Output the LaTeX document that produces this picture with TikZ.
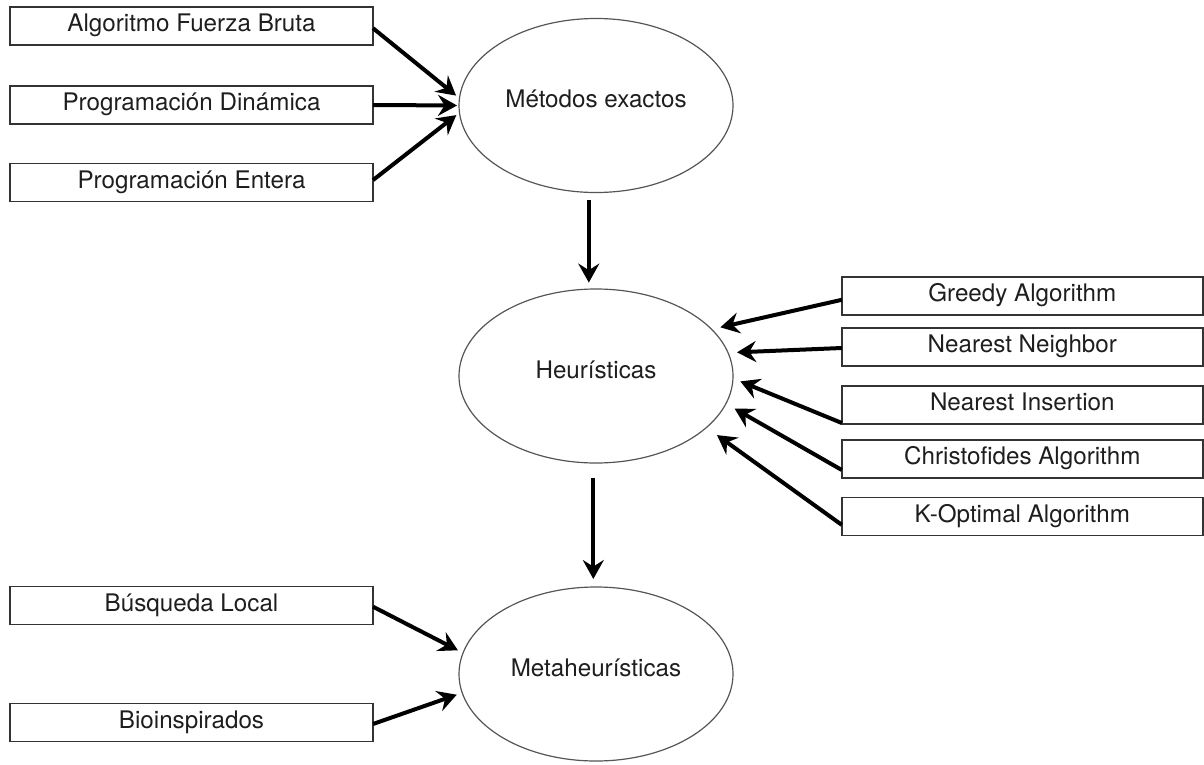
\documentclass[tikz,border=0pt]{standalone}
\usepackage{fontspec}
\setmainfont{TeX Gyre Heros}
\usetikzlibrary{shapes.geometric,arrows.meta}
\definecolor{boxline}{HTML}{333333}
\definecolor{ovalline}{HTML}{555555}
\definecolor{ink}{HTML}{1E1E1E}
\begin{document}
\begin{tikzpicture}[x=0.5pt,y=-0.5pt,
  label font/.style={font=\fontsize{12.1}{14}\selectfont, text=ink},
  method/.style={draw=boxline, line width=0.7pt, rectangle, inner sep=0pt, outer sep=0pt,
    minimum height=19pt, label font, text height=8.7pt, text depth=3pt},
  leftbox/.style={method, minimum width=181.5pt},
  rightbox/.style={method, minimum width=180.5pt},
  family/.style={draw=ovalline, line width=0.6pt, ellipse, inner sep=0pt, outer sep=0pt,
    minimum width=137pt, minimum height=87pt, label font, text height=8.7pt, text depth=6.5pt},
  feed/.style={line width=2pt, -{Stealth[length=9.5pt, width=10.5pt, inset=3.3pt]}}
]
\useasboundingbox (0,0) rectangle (1204,765);

% main families of methods
\node[family] (exact) at (596,105.5) {Métodos exactos};
\node[family] (heur)  at (596,376)   {Heurísticas};
\node[family] (meta)  at (596,674)   {Metaheurísticas};

% exact methods
\node[leftbox] (brute) at (191.5,26.2)  {Algoritmo Fuerza Bruta};
\node[leftbox] (dyn)   at (191.5,105)   {Programación Dinámica};
\node[leftbox] (int)   at (191.5,182.5) {Programación Entera};

% heuristics
\node[rightbox] (greedy) at (1022.3,295.8) {Greedy Algorithm};
\node[rightbox] (nn)     at (1022.3,347)   {Nearest Neighbor};
\node[rightbox] (ni)     at (1022.3,405)   {Nearest Insertion};
\node[rightbox] (chr)    at (1022.3,459)   {Christofides Algorithm};
\node[rightbox] (kopt)   at (1022.3,516.5) {K-Optimal Algorithm};

% metaheuristics
\node[leftbox] (local) at (191.5,605.5) {Búsqueda Local};
\node[leftbox] (bio)   at (191.5,722.5) {Bioinspirados};

% connectors into the exact methods
\draw[feed, shorten >=2.2pt] ([yshift=-1pt]brute.east) -- (exact.177);
\draw[feed, shorten >=1pt]   (dyn.east) -- (exact.180);
\draw[feed, shorten >=2pt]   ([yshift=1.2pt]int.east) -- (exact.183);

% progression between families
\draw[feed, shorten <=3.75pt, shorten >=3.2pt] ([xshift=-3.6pt]exact.south) -- ([xshift=-3.6pt]heur.north);
\draw[feed, shorten <=7.6pt, shorten >=4pt] ([xshift=-1.35pt]heur.south) -- ([xshift=-1.35pt]meta.north);

% connectors into the heuristics
\draw[feed, shorten >=4.5pt] ([yshift=-2pt]greedy.west) -- (heur.22.5);
\draw[feed, shorten >=4.5pt] ([yshift=-0.5pt]nn.west) -- (heur.10);
\draw[feed, shorten >=4pt]   ([yshift=0.5pt]ni.south west) -- (heur.-1.2);
\draw[feed, shorten >=5pt]   ([yshift=-5.5pt]chr.west) -- (heur.-12.5);
\draw[feed, shorten >=6.5pt] ([yshift=-4.2pt]kopt.west) -- (heur.-25.3);

% connectors into the metaheuristics
\draw[feed, shorten >=2.9pt] ([yshift=-0.6pt]local.east) -- (meta.171.7);
\draw[feed, shorten >=2.9pt] ([yshift=-0.75pt]bio.east) -- (meta.188.3);
\end{tikzpicture}
\end{document}
